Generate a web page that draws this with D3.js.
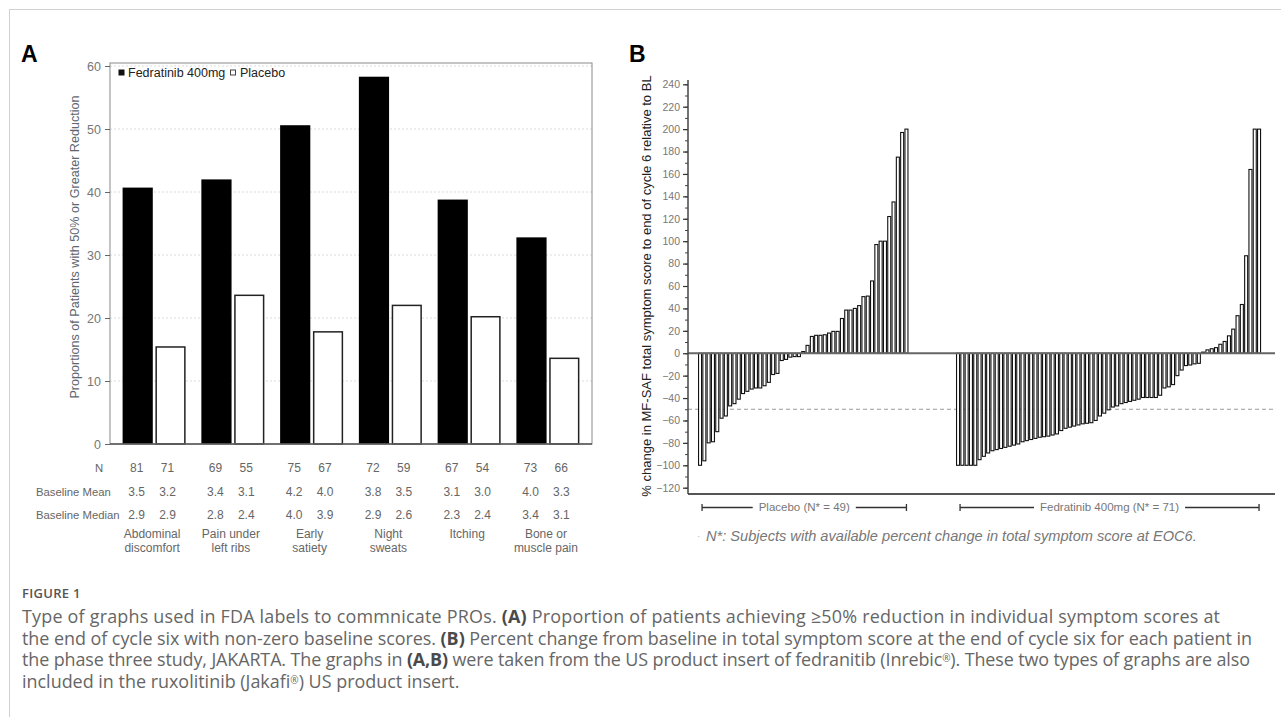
<!DOCTYPE html>
<html>
<head>
<meta charset="utf-8">
<script src="https://cdn.jsdelivr.net/npm/d3@7"></script>
<style>
  body { margin: 0; background: #fff; }
  svg { display: block; }
  text { font-family: "Liberation Sans", Arial, sans-serif; }
  .caption { font-family: "Open Sans", "Noto Sans", sans-serif; fill: #666; }
</style>
</head>
<body>
<div id="figure"></div>
<script>
//Datos del panel A
const categories = ['Abdominal discomfort', 'Pain under left ribs', 'Early satiety', 'Night sweats', 'Itching', 'Bone or muscle pain']
const categoryLines = [['Abdominal', 'discomfort'], ['Pain under', 'left ribs'], ['Early', 'satiety'], ['Night', 'sweats'], ['Itching'], ['Bone or', 'muscle pain']]
const fedratinib = [40.7, 42.0, 50.6, 58.3, 38.8, 32.8]
const placebo = [15.4, 23.6, 17.8, 22.0, 20.2, 13.6]
const nFed = [81, 69, 75, 72, 67, 73]
const nPlacebo = [71, 55, 67, 59, 54, 66]
const meanFed = [3.5, 3.4, 4.2, 3.8, 3.1, 4.0]
const meanPlacebo = [3.2, 3.1, 4.0, 3.5, 3.0, 3.3]
const medianFed = [2.9, 2.8, 4.0, 2.9, 2.3, 3.4]
const medianPlacebo = [2.9, 2.4, 3.9, 2.6, 2.4, 3.1]
const ticksA = [0, 10, 20, 30, 40, 50, 60]

//Datos del panel B (cambio % por paciente, ordenado)
const waterfallPlacebo = [-100, -96, -80, -79, -70, -58, -56, -47, -45, -41, -36, -34, -32, -31, -31, -29, -26, -19, -18, -6.5,
  -5.5, -3.5, -3, -3, 1.5, 7, 15, 16, 16, 16.5, 18, 19.5, 19.5, 31, 38.5, 38.5, 40, 42.5, 50.5, 51,
  64.5, 97, 100, 100, 122, 135, 175, 197, 200]
const waterfallFed = [-100, -100, -100, -100, -100, -95, -92, -89, -87, -86, -85, -84, -83, -82, -81, -79, -78, -77, -76, -75,
  -74.5, -74, -73, -72, -69, -67, -66, -65, -64, -63, -62.5, -62, -60, -56, -53.5, -50.5, -48, -47, -45, -44,
  -43, -42, -41, -39.5, -39.5, -39.5, -39.5, -37.5, -31, -30, -28, -20, -15, -11, -10.5, -9.5, -9,
  1, 3, 4, 5, 8, 10.5, 15.5, 21.5, 33.5, 43.5, 87, 164, 200, 200]
const gapSlots = 11
const ticksB = d3.range(-120, 241, 20)
const minorTicksB = d3.range(-120, 241, 10)
const threshold = -50

//Constantes
const width = 1281
const height = 717

const svg = d3.select('#figure')
    .append('svg')
    .attr('width', width)
    .attr('height', height)

//Marco gris de la figura
svg.append('line').attr('x1', 9).attr('x2', width).attr('y1', 9.5).attr('y2', 9.5).attr('stroke', '#d0d0d0')
svg.append('line').attr('x1', 9.5).attr('x2', 9.5).attr('y1', 9).attr('y2', height).attr('stroke', '#d0d0d0')

drawPanelA()
drawPanelB()
drawCaption()

function drawPanelA() {
    const left = 110, right = 592, top = 63, bottom = 444

    svg.append('text')
        .attr('x', 21).attr('y', 62)
        .attr('font-size', 23).attr('font-weight', 'bold')
        .text('A')

    const y = d3.scaleLinear().domain([0, 60]).range([bottom, 66])
    const x = d3.scaleBand().domain(categories).range([left, right])
        .paddingInner(0.2).paddingOuter(0.16)
    const sub = d3.scaleBand().domain(['fed', 'placebo']).range([0, x.bandwidth()]).paddingInner(0.08)

    //Rejilla punteada
    svg.append('g')
        .selectAll('line')
        .data(ticksA.filter(d => d > 0))
        .enter()
        .append('line')
        .attr('x1', left).attr('x2', right)
        .attr('y1', d => y(d)).attr('y2', d => y(d))
        .attr('stroke', '#dcdcdc')
        .attr('stroke-dasharray', '2,2')

    //Barras
    const groups = svg.append('g')
        .selectAll('g')
        .data(categories)
        .enter()
        .append('g')
        .attr('transform', d => `translate(${x(d)}, 0)`)

    groups.append('rect')
        .attr('x', sub('fed'))
        .attr('width', sub.bandwidth())
        .attr('y', (d, i) => y(fedratinib[i]))
        .attr('height', (d, i) => bottom - y(fedratinib[i]))
        .attr('fill', '#000')

    groups.append('rect')
        .attr('x', sub('placebo') + 0.75)
        .attr('width', sub.bandwidth() - 1.5)
        .attr('y', (d, i) => y(placebo[i]))
        .attr('height', (d, i) => bottom - y(placebo[i]))
        .attr('fill', '#fff')
        .attr('stroke', '#222')
        .attr('stroke-width', 1.5)

    //Marco del gráfico
    svg.append('rect')
        .attr('x', left).attr('y', top)
        .attr('width', right - left).attr('height', bottom - top)
        .attr('fill', 'none')
        .attr('stroke', '#8a8a8a')
    svg.append('line')
        .attr('x1', left).attr('x2', right)
        .attr('y1', bottom).attr('y2', bottom)
        .attr('stroke', '#555').attr('stroke-width', 1.5)

    //Eje Y
    const axisY = svg.append('g')
        .attr('transform', `translate(${left}, 0)`)
        .call(d3.axisLeft(y).tickValues(ticksA).tickSize(5).tickPadding(4))
    axisY.select('.domain').remove()
    axisY.selectAll('line').attr('stroke', '#666')
    axisY.selectAll('text').attr('fill', '#777').attr('font-size', 12.5)
        .attr('font-family', '"Liberation Sans", Arial, sans-serif')

    svg.append('text')
        .attr('transform', `translate(79, ${(bottom + 66) / 2 - 8}) rotate(-90)`)
        .attr('text-anchor', 'middle')
        .attr('font-size', 12.6)
        .attr('fill', '#5e6670')
        .text('Proportions of Patients with 50% or Greater Reduction')

    //Leyenda
    const legend = svg.append('g').attr('transform', 'translate(118, 77)')
    legend.append('rect').attr('x', 0.5).attr('y', -7.5).attr('width', 6).attr('height', 6).attr('fill', '#111')
    legend.append('text').attr('x', 10).attr('y', 0).attr('font-size', 12.5).attr('fill', '#222').text('Fedratinib 400mg')
    legend.append('rect').attr('x', 112.5).attr('y', -7).attr('width', 5).attr('height', 5)
        .attr('fill', '#fff').attr('stroke', '#444').attr('stroke-width', 1)
    legend.append('text').attr('x', 122).attr('y', 0).attr('font-size', 12.5).attr('fill', '#222').text('Placebo')

    //Tabla bajo el gráfico
    const rows = [
        { label: 'N', lx: 95, y: 472, fed: nFed, pla: nPlacebo, fmt: d => d },
        { label: 'Baseline Mean', lx: 36, y: 496, fed: meanFed, pla: meanPlacebo, fmt: d => d.toFixed(1) },
        { label: 'Baseline Median', lx: 36, y: 519, fed: medianFed, pla: medianPlacebo, fmt: d => d.toFixed(1) }
    ]
    const table = svg.append('g').attr('font-size', 12).attr('fill', '#666')
    rows.forEach(row => {
        table.append('text').attr('x', row.lx).attr('y', row.y).attr('font-size', 11.3).text(row.label)
        table.selectAll(null)
            .data(categories)
            .enter()
            .append('text')
            .attr('x', d => x(d) + sub('fed') + sub.bandwidth() / 2 - 1)
            .attr('y', row.y)
            .attr('text-anchor', 'middle')
            .text((d, i) => row.fmt(row.fed[i]))
        table.selectAll(null)
            .data(categories)
            .enter()
            .append('text')
            .attr('x', d => x(d) + sub('placebo') + sub.bandwidth() / 2 - 3)
            .attr('y', row.y)
            .attr('text-anchor', 'middle')
            .text((d, i) => row.fmt(row.pla[i]))
    })

    //Nombres de los síntomas
    categories.forEach((c, i) => {
        categoryLines[i].forEach((line, j) => {
            table.append('text')
                .attr('x', x(c) + x.bandwidth() / 2 - 2)
                .attr('y', 538 + j * 14)
                .attr('text-anchor', 'middle')
                .text(line)
        })
    })
}

function drawPanelB() {
    const axisX = 688, rightEdge = 1275, bottomY = 494

    svg.append('text')
        .attr('x', 629).attr('y', 62)
        .attr('font-size', 23).attr('font-weight', 'bold')
        .text('B')

    const y = d3.scaleLinear().domain([-120, 240]).range([487.7, 84.3])

    const ids = []
    waterfallPlacebo.forEach((d, i) => ids.push({ id: 'p' + i, value: d }))
    d3.range(gapSlots).forEach(i => ids.push({ id: 'g' + i, value: null }))
    waterfallFed.forEach((d, i) => ids.push({ id: 'f' + i, value: d }))

    const x = d3.scaleBand().domain(ids.map(d => d.id)).range([697.9, 1261.2])
    const barWidth = x.bandwidth() * 0.7

    //Línea umbral -50%
    svg.append('line')
        .attr('x1', axisX).attr('x2', rightEdge)
        .attr('y1', y(threshold)).attr('y2', y(threshold))
        .attr('stroke', '#9a9a9a')
        .attr('stroke-dasharray', '4,3')

    //Barras de cascada
    svg.append('g')
        .selectAll('rect')
        .data(ids.filter(d => d.value !== null))
        .enter()
        .append('rect')
        .attr('x', d => x(d.id) + (x.bandwidth() - barWidth) / 2)
        .attr('width', barWidth)
        .attr('y', d => y(Math.max(0, d.value)))
        .attr('height', d => Math.abs(y(d.value) - y(0)))
        .attr('fill', '#fff')
        .attr('stroke', '#111')
        .attr('stroke-width', 1.1)

    //Línea del cero
    svg.append('line')
        .attr('x1', axisX).attr('x2', rightEdge)
        .attr('y1', y(0)).attr('y2', y(0))
        .attr('stroke', '#666').attr('stroke-width', 2)

    //Ejes
    svg.append('line')
        .attr('x1', axisX).attr('x2', rightEdge)
        .attr('y1', bottomY).attr('y2', bottomY)
        .attr('stroke', '#555').attr('stroke-width', 2)

    const minor = svg.append('g')
        .attr('transform', `translate(${axisX}, 0)`)
        .call(d3.axisLeft(y).tickValues(minorTicksB).tickSize(3).tickFormat(''))
    minor.select('.domain').remove()
    minor.selectAll('line').attr('stroke', '#444')

    const major = svg.append('g')
        .attr('transform', `translate(${axisX}, 0)`)
        .call(d3.axisLeft(y).tickValues(ticksB).tickSize(5).tickPadding(3))
    major.select('.domain').remove()
    major.selectAll('line').attr('stroke', '#333').attr('stroke-width', 1.2)
    major.selectAll('text').attr('fill', '#777').attr('font-size', 10.5)
        .attr('font-family', '"Liberation Sans", Arial, sans-serif')

    svg.append('line')
        .attr('x1', axisX).attr('x2', axisX)
        .attr('y1', 80).attr('y2', bottomY)
        .attr('stroke', '#444').attr('stroke-width', 1.5)

    svg.append('text')
        .attr('transform', `translate(651, ${(84 + 488) / 2}) rotate(-90)`)
        .attr('text-anchor', 'middle')
        .attr('font-size', 13)
        .attr('fill', '#222')
        .text('% change in MF-SAF total symptom score to end of cycle 6 relative to BL')

    //Corchetes de grupo
    const brackets = [
        { from: 'p0', to: 'p' + (waterfallPlacebo.length - 1), label: `Placebo (N* = ${waterfallPlacebo.length})` },
        { from: 'f0', to: 'f' + (waterfallFed.length - 1), label: `Fedratinib 400mg (N* = ${waterfallFed.length})` }
    ]
    const groupB = svg.append('g')
    brackets.forEach(b => {
        const x1 = x(b.from) + x.bandwidth() / 2 + 2
        const x2 = x(b.to) + x.bandwidth() / 2
        const mid = (x1 + x2) / 2
        const label = groupB.append('text')
            .attr('x', mid).attr('y', 511)
            .attr('text-anchor', 'middle')
            .attr('font-size', 11.5)
            .attr('fill', '#777')
            .text(b.label)
        const w = label.node().getComputedTextLength()
        const yb = 507.5
        groupB.append('line').attr('x1', x1).attr('x2', mid - w / 2 - 6).attr('y1', yb).attr('y2', yb)
            .attr('stroke', '#333').attr('stroke-width', 1.3)
        groupB.append('line').attr('x1', mid + w / 2 + 6).attr('x2', x2).attr('y1', yb).attr('y2', yb)
            .attr('stroke', '#333').attr('stroke-width', 1.3)
        groupB.append('line').attr('x1', x1).attr('x2', x1).attr('y1', yb - 3.5).attr('y2', yb + 3.5)
            .attr('stroke', '#333').attr('stroke-width', 1.3)
        groupB.append('line').attr('x1', x2).attr('x2', x2).attr('y1', yb - 3.5).attr('y2', yb + 3.5)
            .attr('stroke', '#333').attr('stroke-width', 1.3)
    })

    svg.append('text')
        .attr('x', 697).attr('y', 540)
        .attr('font-size', 10).attr('fill', '#bbb')
        .text('·')
    svg.append('text')
        .attr('x', 706).attr('y', 541)
        .attr('font-size', 14.6)
        .attr('font-style', 'italic')
        .attr('fill', '#777')
        .text('N*: Subjects with available percent change in total symptom score at EOC6.')
}

function drawCaption() {
    svg.append('text')
        .attr('class', 'caption')
        .attr('x', 22).attr('y', 598)
        .attr('font-size', 13).attr('font-weight', 600)
        .attr('letter-spacing', 0.3)
        .attr('fill', '#555')
        .style('fill', '#555')
        .text('FIGURE 1')

    const lines = [
        { y: 623, width: 1198, parts: [['Type of graphs used in FDA labels to commnicate PROs. ', 0], ['(A)', 1], [' Proportion of patients achieving ≥50% reduction in individual symptom scores at', 0]] },
        { y: 644.5, width: 1230, parts: [['the end of cycle six with non-zero baseline scores. ', 0], ['(B)', 1], [' Percent change from baseline in total symptom score at the end of cycle six for each patient in', 0]] },
        { y: 666, width: 1228, parts: [['the phase three study, JAKARTA. The graphs in ', 0], ['(A,B)', 1], [' were taken from the US product insert of fedranitib (Inrebic', 0], ['®', 2], ['). These two types of graphs are also', 0]] },
        { y: 687.5, width: null, parts: [['included in the ruxolitinib (Jakafi', 0], ['®', 2], [') US product insert.', 0]] }
    ]
    //Primero mido el ancho natural para elegir el tamaño de letra
    const baseSize = 15
    const texts = lines.map(line => {
        const t = svg.append('text')
            .attr('class', 'caption')
            .attr('x', 22).attr('y', line.y)
            .attr('font-size', baseSize)
        line.parts.forEach(p => {
            const span = t.append('tspan').text(p[0])
            if (p[1] === 1) span.attr('font-weight', 700).style('fill', '#4a4a4a')
            if (p[1] === 2) span.attr('font-size', 10).attr('baseline-shift', '45%')
        })
        return t
    })
    const ratios = lines
        .map((line, i) => line.width ? line.width / texts[i].node().getComputedTextLength() : null)
        .filter(d => d)
    const size = baseSize * d3.mean(ratios)
    texts.forEach((t, i) => {
        t.attr('font-size', size)
        if (lines[i].width) t.attr('textLength', lines[i].width).attr('lengthAdjust', 'spacing')
    })
}
</script>
</body>
</html>
